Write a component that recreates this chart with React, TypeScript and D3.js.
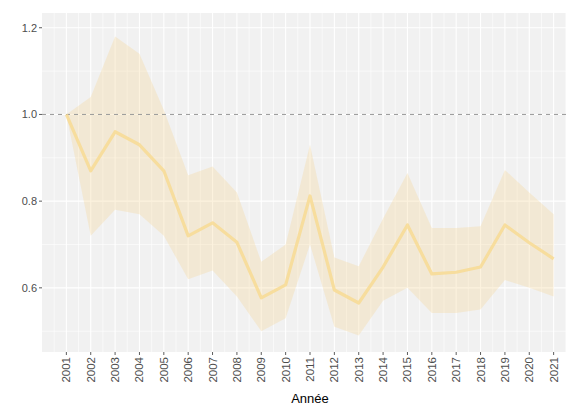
import React from "react";
import * as d3 from "d3";

const years = [2001, 2002, 2003, 2004, 2005, 2006, 2007, 2008, 2009, 2010, 2011, 2012, 2013, 2014, 2015, 2016, 2017, 2018, 2019, 2020, 2021];
const meanValues = [1.0, 0.87, 0.96, 0.93, 0.87, 0.72, 0.75, 0.705, 0.577, 0.607, 0.812, 0.595, 0.565, 0.648, 0.745, 0.632, 0.636, 0.648, 0.745, 0.704, 0.667];
const upperValues = [1.0, 1.04, 1.18, 1.14, 1.01, 0.86, 0.88, 0.82, 0.66, 0.70, 0.93, 0.67, 0.65, 0.76, 0.865, 0.738, 0.738, 0.742, 0.872, 0.82, 0.77];
const lowerValues = [1.0, 0.72, 0.78, 0.77, 0.72, 0.62, 0.64, 0.58, 0.50, 0.53, 0.70, 0.51, 0.49, 0.57, 0.60, 0.542, 0.542, 0.55, 0.618, 0.60, 0.58];
const yTicks = [0.6, 0.8, 1.0, 1.2];
const yMinor = [0.5, 0.7, 0.9, 1.1];
const xTitle = "Année";

const W = 566, H = 406;
const L = 42, R = 578, T = 13, B = 352;

export default function App() {
  const x = d3.scaleLinear().domain([2000, 2022]).range([L, R]);
  const y = d3.scaleLinear().domain([0.452, 1.234]).range([B, T]);
  const data = years.map((yr, i) => ({ yr, m: meanValues[i], hi: upperValues[i], lo: lowerValues[i] }));
  const area = d3.area<any>().x(d => x(d.yr)).y0(d => y(d.lo)).y1(d => y(d.hi));
  const line = d3.line<any>().x(d => x(d.yr)).y(d => y(d.m));
  const xMinor = years.slice(0, -1).map(v => v + 0.5).concat([2000.5, 2021.5]);
  return (
    <svg width={W} height={H} style={{ position: "absolute", left: 0, top: 0 }} fontFamily="Liberation Sans, Arial, sans-serif">
      <rect x={0} y={0} width={W} height={H} fill="#ffffff" />
      <rect x={L} y={T} width={R - L} height={B - T} fill="#F1F1F1" />
      {yMinor.map(v => (
        <line key={"ym" + v} x1={L} x2={R} y1={y(v)} y2={y(v)} stroke="#fff" strokeWidth={0.6} />
      ))}
      {xMinor.map(v => (
        <line key={"xm" + v} x1={x(v)} x2={x(v)} y1={T} y2={B} stroke="#fff" strokeWidth={0.6} />
      ))}
      {yTicks.map(v => (
        <line key={"yM" + v} x1={L} x2={R} y1={y(v)} y2={y(v)} stroke="#fff" strokeWidth={1.1} />
      ))}
      {years.map(v => (
        <line key={"xM" + v} x1={x(v)} x2={x(v)} y1={T} y2={B} stroke="#fff" strokeWidth={1.1} />
      ))}
      <path d={area(data) || ""} fill="#F7D898" fillOpacity={0.32} />
      <line x1={L} x2={R} y1={y(1)} y2={y(1)} stroke="#9a9a9a" strokeWidth={1} strokeDasharray="4,4" />
      <path d={line(data) || ""} fill="none" stroke="#F8D98E" strokeWidth={3.2} strokeOpacity={0.8} strokeLinejoin="round" />
      {yTicks.map(v => (
        <g key={"yt" + v}>
          <line x1={L - 3} x2={L} y1={y(v)} y2={y(v)} stroke="#333" strokeWidth={0.8} />
          <text x={L - 5} y={y(v)} dy="0.35em" textAnchor="end" fontSize={11} fill="#4D4D4D">{v.toFixed(1)}</text>
        </g>
      ))}
      {years.map(v => (
        <g key={"xt" + v}>
          <line x1={x(v)} x2={x(v)} y1={B} y2={B + 3} stroke="#333" strokeWidth={0.8} />
          <text transform={`translate(${x(v)},${B + 5}) rotate(-90)`} dy="0.35em" textAnchor="end" fontSize={11.5} fill="#4D4D4D">{String(v)}</text>
        </g>
      ))}
      <text x={(L + R) / 2} y={403} textAnchor="middle" fontSize={13} fill="#000">{xTitle}</text>
    </svg>
  );
}
